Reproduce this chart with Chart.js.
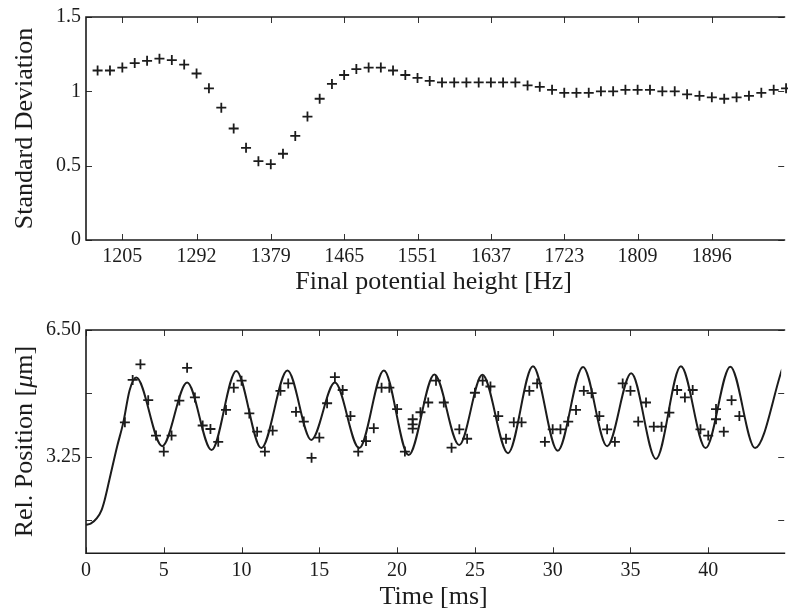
<!DOCTYPE html>
<html>
<head>
<meta charset="utf-8">
<script src="https://cdn.jsdelivr.net/npm/chart.js@4.4.1/dist/chart.umd.min.js"></script>
<style>
  html, body { margin: 0; padding: 0; background: #fff; overflow: hidden; }
  #wrap { position: relative; width: 788px; height: 610px; overflow: hidden; }
  canvas { position: absolute; left: 0; }
  #top { top: 0; }
  #bottom { top: 305px; }
</style>
</head>
<body>
<div id="wrap">
  <canvas id="top" width="788" height="305"></canvas>
  <canvas id="bottom" width="788" height="305"></canvas>
</div>
<script>
// top panel: std deviation vs final potential height
const freqHz = [1176, 1190.5, 1205, 1219.5, 1234, 1248.5, 1263, 1277.5, 1292, 1306.5, 1321, 1335.5, 1350, 1364.5, 1379,
  1393.3, 1407.7, 1422, 1436.3, 1450.7, 1465, 1479.3, 1493.7, 1508, 1522.3, 1536.7, 1551, 1565.3, 1579.7, 1594, 1608.3,
  1622.7, 1637, 1651.3, 1665.7, 1680, 1694.3, 1708.7, 1723, 1737.3, 1751.7, 1766, 1780.3, 1794.7, 1809, 1823.5, 1838,
  1852.5, 1867, 1881.5, 1896, 1910.5, 1925, 1939.5, 1954, 1968.5, 1983];
const stdDev = [1.14, 1.14, 1.16, 1.19, 1.205, 1.22, 1.21, 1.18, 1.12, 1.02, 0.89, 0.75, 0.62, 0.53, 0.51, 0.58, 0.70,
  0.83, 0.95, 1.05, 1.11, 1.15, 1.16, 1.16, 1.14, 1.11, 1.09, 1.07, 1.06, 1.06, 1.06, 1.06, 1.06, 1.06, 1.06, 1.04,
  1.03, 1.01, 0.99, 0.99, 0.99, 1.00, 1.00, 1.01, 1.01, 1.01, 1.00, 1.00, 0.98, 0.97, 0.96, 0.95, 0.96, 0.97, 0.99,
  1.01, 1.02];
const freqTicks = [1205, 1292, 1379, 1465, 1551, 1637, 1723, 1809, 1896];
const stdTicks = [0, 0.5, 1, 1.5];

// bottom panel: measured positions and fitted curve
const measTime = [2.5, 3, 3.5, 4, 4.5, 5, 5.5, 6, 6.5, 7, 7.5, 8, 8.5, 9, 9.5, 10, 10.5, 11, 11.5, 12, 12.5, 13, 13.5,
  14, 14.5, 15, 15.5, 16, 16.5, 17, 17.5, 18, 18.5, 19, 19.5, 20, 20.5, 21, 21, 21, 21.5, 22, 22.5, 23, 23.5, 24, 24.5,
  25, 25.5, 26, 26.5, 27, 27.5, 28, 28.5, 29, 29.5, 30, 30.5, 31, 31.5, 32, 32.5, 33, 33.5, 34, 34.5, 35, 35.5, 36,
  36.5, 37, 37.5, 38, 38.5, 39, 39.5, 40, 40.5, 40.5, 41, 41.5, 42];
const measPos = [4.13, 5.22, 5.62, 4.70, 3.79, 3.38, 3.79, 4.69, 5.53, 4.77, 4.05, 3.96, 3.63, 4.45, 5.02, 5.20, 4.36,
  3.89, 3.38, 3.92, 4.94, 5.13, 4.40, 4.15, 3.22, 3.74, 4.62, 5.29, 4.96, 4.29, 3.38, 3.65, 3.98, 5.02, 5.02, 4.47,
  3.38, 4.21, 4.08, 3.97, 4.39, 4.64, 5.20, 4.64, 3.48, 3.95, 3.71, 4.89, 5.20, 5.05, 4.29, 3.71, 4.13, 4.13, 4.94,
  5.13, 3.63, 3.95, 3.95, 4.15, 4.45, 4.94, 4.88, 4.29, 3.95, 3.63, 5.13, 4.94, 4.15, 4.64, 4.02, 4.02, 4.38, 4.96,
  4.77, 4.96, 3.95, 3.79, 4.47, 4.21, 3.89, 4.70, 4.29];
const fitTime = [0, 0.3, 0.7, 1.0, 1.2, 1.5, 2.0, 2.4, 2.8, 3.23, 4.9, 6.5, 8.07, 9.66, 11.27, 12.95, 14.48, 16.0,
  17.56, 19.15, 20.74, 22.4, 23.99, 25.48, 27.13, 28.73, 30.32, 31.95, 33.5, 35.05, 36.64, 38.24, 39.83, 41.42, 43.01,
  44.75];
const fitPos = [1.50, 1.53, 1.67, 1.88, 2.14, 2.65, 3.51, 4.13, 4.95, 5.28, 3.52, 5.15, 3.42, 5.45, 3.47, 5.46, 3.68,
  5.15, 3.47, 5.46, 3.29, 5.36, 3.55, 5.35, 3.34, 5.57, 3.40, 5.55, 3.52, 5.39, 3.19, 5.57, 3.47, 5.56, 3.47, 5.50];
const timeTicks = [0, 5, 10, 15, 20, 25, 30, 35, 40];
const posTicks = [1.625, 3.25, 4.875, 6.5];
const posLabels = [3.25, 6.5];

const ink = '#1c1c1c';
const serif = 'Liberation Serif, Times New Roman, serif';

// box (left/top/bottom) plus inward ticks; the right axis sits just past the picture edge
const boxTicks = {
  id: 'boxTicks',
  afterDraw(chart) {
    const {ctx, chartArea: a, scales} = chart;
    const x = scales.x, y = scales.y;
    const len = 6, rightAxis = a.right + 3;
    ctx.save();
    ctx.strokeStyle = '#333';
    ctx.lineWidth = 1;
    ctx.beginPath();
    x.ticks.forEach(t => {
      const px = Math.round(x.getPixelForValue(t.value)) + 0.5;
      ctx.moveTo(px, a.bottom); ctx.lineTo(px, a.bottom - len);
      ctx.moveTo(px, a.top); ctx.lineTo(px, a.top + len);
    });
    y.ticks.forEach(t => {
      const py = Math.round(y.getPixelForValue(t.value)) + 0.5;
      ctx.moveTo(a.left, py); ctx.lineTo(a.left + len, py);
      ctx.moveTo(rightAxis, py); ctx.lineTo(rightAxis - len, py);
    });
    ctx.stroke();
    ctx.strokeStyle = ink;
    ctx.lineWidth = 1.6;
    ctx.beginPath();
    ctx.moveTo(a.right + 4, a.top); ctx.lineTo(a.left, a.top);
    ctx.lineTo(a.left, a.bottom); ctx.lineTo(a.right + 4, a.bottom);
    ctx.stroke();
    ctx.restore();
  }
};

// y title with an italic mu, drawn beside the axis
const muTitle = {
  id: 'muTitle',
  afterDraw(chart) {
    const {ctx, chartArea: a} = chart;
    const parts = [['Rel. Position [', ''], ['\u03bc', 'italic '], ['m]', '']];
    ctx.save();
    ctx.translate(25, (a.top + a.bottom) / 2);
    ctx.rotate(-Math.PI / 2);
    ctx.fillStyle = ink;
    ctx.textBaseline = 'middle';
    ctx.textAlign = 'left';
    let total = 0;
    parts.forEach(p => { ctx.font = p[1] + '26px ' + serif; total += ctx.measureText(p[0]).width; });
    let cx = -total / 2;
    parts.forEach(p => {
      ctx.font = p[1] + '26px ' + serif;
      ctx.fillText(p[0], cx, 0);
      cx += ctx.measureText(p[0]).width;
    });
    ctx.restore();
  }
};

function axisX(min, max, ticks, title, height, titlePad) {
  return {
    type: 'linear', min: min, max: max,
    grid: {display: false, drawTicks: false},
    border: {display: false},
    afterBuildTicks: s => { s.ticks = ticks.map(v => ({value: v})); },
    afterFit: s => { s.height = height; },
    ticks: {
      autoSkip: false, maxRotation: 0, padding: 5, color: ink,
      font: {family: serif, size: 20},
      callback: v => String(v)
    },
    title: {
      display: true, text: title, color: ink,
      font: {family: serif, size: 26, lineHeight: 1},
      padding: {top: 0, bottom: titlePad}
    }
  };
}

function axisY(min, max, ticks, title, fmt) {
  return {
    type: 'linear', min: min, max: max,
    grid: {display: false, drawTicks: false},
    border: {display: false},
    afterBuildTicks: s => { s.ticks = ticks.map(v => ({value: v})); },
    afterFit: s => { s.width = 86; },
    ticks: {
      autoSkip: false, padding: 5, color: ink,
      font: {family: serif, size: 20},
      callback: fmt
    },
    title: {
      display: !!title, text: title, color: ink,
      font: {family: serif, size: 26, lineHeight: 1},
      padding: {top: 12, bottom: 0}
    }
  };
}

const common = {
  responsive: false,
  animation: false,
  devicePixelRatio: 1,
  plugins: {legend: {display: false}, tooltip: {enabled: false}}
};

new Chart(document.getElementById('top'), {
  type: 'scatter',
  data: {
    datasets: [{
      data: freqHz.map((f, i) => ({x: f, y: stdDev[i]})),
      pointStyle: 'cross', pointRadius: 5, pointBorderWidth: 1.8,
      borderColor: ink, backgroundColor: ink, clip: false
    }]
  },
  options: Object.assign({}, common, {
    layout: {padding: {top: 15, right: 0, left: 0, bottom: 0}},
    scales: {
      x: axisX(1162.4, 1977.3, freqTicks, 'Final potential height [Hz]', 65, 10),
      y: axisY(0, 1.5, stdTicks, 'Standard Deviation', v => String(v))
    }
  }),
  plugins: [boxTicks]
});

new Chart(document.getElementById('bottom'), {
  type: 'scatter',
  data: {
    datasets: [{
      data: fitTime.map((t, i) => ({x: t, y: fitPos[i]})),
      showLine: true, pointRadius: 0, borderWidth: 2, borderColor: ink,
      cubicInterpolationMode: 'monotone'
    }, {
      data: measTime.map((t, i) => ({x: t, y: measPos[i]})),
      pointStyle: 'cross', pointRadius: 5, pointBorderWidth: 1.8,
      borderColor: ink, backgroundColor: ink
    }]
  },
  options: Object.assign({}, common, {
    layout: {padding: {top: 25, right: 0, left: 0, bottom: 0}},
    scales: {
      x: axisX(0, 44.69, timeTicks, 'Time [ms]', 56.7, 0),
      y: axisY(0.77, 6.5, posTicks, '', v => posLabels.includes(v) ? v.toFixed(2) : '')
    }
  }),
  plugins: [boxTicks, muTitle]
});
</script>
</body>
</html>
